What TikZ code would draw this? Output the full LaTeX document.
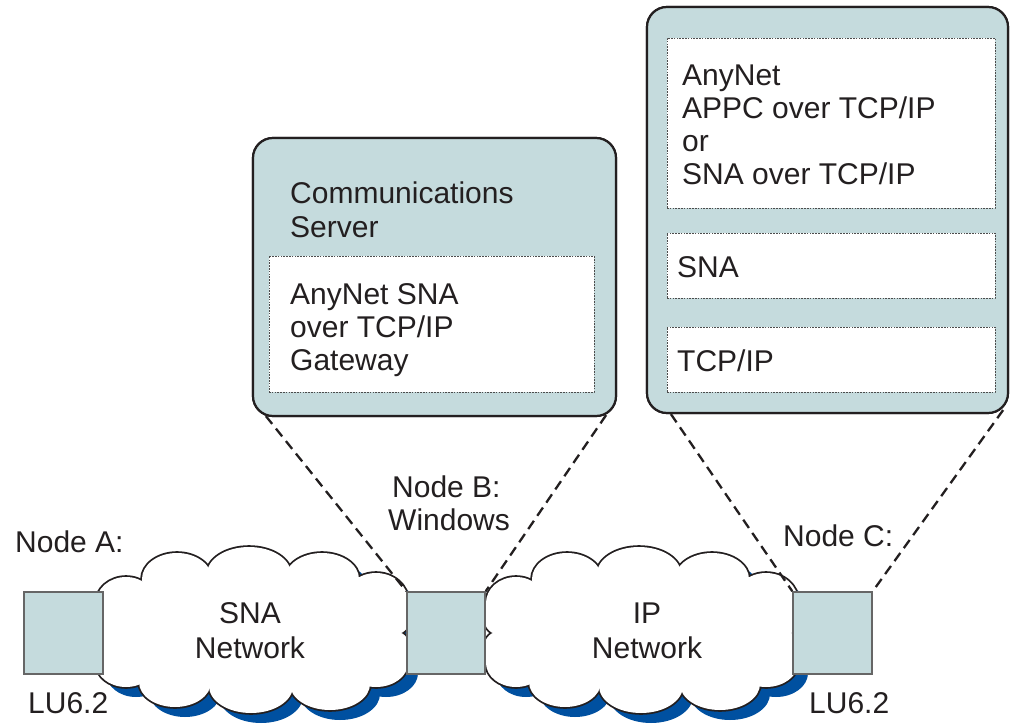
\documentclass[tikz,border=0pt]{standalone}
\usepackage{fontspec}
\setmainfont{Liberation Sans}
\definecolor{boxfill}{RGB}{197,219,221}
\definecolor{shadowblue}{RGB}{0,80,160}
\definecolor{ink}{RGB}{35,31,32}
\tikzset{
  bigbox/.style={draw=ink, line width=2.2pt, fill=boxfill, rounded corners=20pt, inner sep=0pt},
  layerbox/.style={draw=black!70, line width=0.8pt, dash pattern=on 1.6pt off 1.2pt, fill=white, inner sep=0pt},
  hostbox/.style={draw=black!60, line width=1.5pt, fill=boxfill, inner sep=0pt},
  lbl/.style={anchor=base west, inner sep=0pt, text=ink, font=\fontsize{30}{34}\selectfont},
  cloudlbl/.style={anchor=base, inner sep=0pt, text=ink, font=\fontsize{30}{34}\selectfont},
  zoomline/.style={draw=ink, line width=2.3pt, dash pattern=on 10pt off 6pt},
}
\begin{document}
\begin{tikzpicture}[x=1pt,y=-1pt]
\useasboundingbox (0,0) rectangle (1010,725);
\fill[white] (0,0) rectangle (1010,725);

% clouds (union of puffs with shadow)
\def\bumps{126/603/30/26,177/579/35/26,249/574/42/27,322/579/37/26,376/601/32/28,397/614/14/20,397/652/14/20,376/663/32/24,330/684/40/26,251/686/42/27,175/682/36/25,126/663/30/24,107/614/14/20,107/652/14/20}
\foreach \dx in {0,390}{
  \begin{scope}[shift={(\dx,0)}]
    \foreach \cx/\cy/\rx/\ry in \bumps {
      \fill[shadowblue] (\cx+10,\cy+10) ellipse [x radius=\rx pt, y radius=\ry pt];
    }
    \foreach \cx/\cy/\rx/\ry in \bumps {
      \draw[ink, line width=3.6pt] (\cx,\cy) ellipse [x radius=\rx pt, y radius=\ry pt];
    }
    \foreach \cx/\cy/\rx/\ry in \bumps {
      \fill[white] (\cx,\cy) ellipse [x radius=\rx pt, y radius=\ry pt];
    }
    \fill[white] (252,631) ellipse [x radius=145pt, y radius=55pt];
  \end{scope}
}
\node[cloudlbl] (snaT1) at (250,623) {SNA};
\node[cloudlbl] (snaT2) at (250,658) {Network};
\node[cloudlbl] (ipT1) at (647,623) {IP};
\node[cloudlbl] (ipT2) at (647,658) {Network};

% host squares
\node[hostbox, minimum width=79pt, minimum height=82pt] (nodeA) at (63.5,633) {};
\node[hostbox, minimum width=78pt, minimum height=82pt] (nodeB) at (446,633) {};
\node[hostbox, minimum width=79pt, minimum height=82pt] (nodeC) at (832.5,633) {};

% big boxes
\node[bigbox, minimum width=363pt, minimum height=278pt] (srv) at (434.5,277) {};
\node[bigbox, minimum width=361pt, minimum height=406pt] (hostC) at (827.5,210) {};

% zoom lines
\draw[zoomline] ([xshift=14pt,yshift=1pt]srv.south west) -- (nodeB.north west);
\draw[zoomline] ([xshift=-11pt,yshift=2pt]srv.south east) -- (nodeB.north east);
\draw[zoomline] ([xshift=25pt]hostC.south west) -- (nodeC.north west);
\draw[zoomline] ([xshift=-6pt,yshift=4pt]hostC.south east) -- (nodeC.north east);
\node[bigbox, minimum width=363pt, minimum height=278pt] (srvtop) at (434.5,277) {};
\node[bigbox, minimum width=361pt, minimum height=406pt] (hostCtop) at (827.5,210) {};

% layers
\node[layerbox, minimum width=325pt, minimum height=136pt] (gwlayer) at (431.5,324) {};
\node[layerbox, minimum width=328pt, minimum height=170pt] (applayer) at (831,123) {};
\node[layerbox, minimum width=328pt, minimum height=65pt] (snalayer) at (831,265.5) {};
\node[layerbox, minimum width=328pt, minimum height=65pt] (tcplayer) at (831,359.5) {};

% texts
\node[lbl] (srvT1) at (290,203.5) {Communications};
\node[lbl] (srvT2) at (290,237) {Server};
\node[lbl] (gw1) at (290,304) {AnyNet SNA};
\node[lbl] (gw2) at (290,337.5) {over TCP/IP};
\node[lbl] (gw3) at (290,370.5) {Gateway};
\node[lbl] (c1) at (682,85.5) {AnyNet};
\node[lbl] (c2) at (682,118.5) {APPC over TCP/IP};
\node[lbl] (c3) at (682,151.5) {or};
\node[lbl] (c4) at (682,184.5) {SNA over TCP/IP};
\node[lbl] (c5) at (677,277) {SNA};
\node[lbl] (c6) at (677,371) {TCP/IP};
\node[lbl] (labA) at (15,552) {Node A:};
\node[lbl] (luA) at (28,713) {LU6.2};
\node[lbl] (labB1) at (392,497) {Node B:};
\node[lbl] (labB2) at (388,530) {Windows};
\node[lbl] (labC) at (783,546) {Node C:};
\node[lbl] (luC) at (809,713) {LU6.2};
\end{tikzpicture}
\end{document}
